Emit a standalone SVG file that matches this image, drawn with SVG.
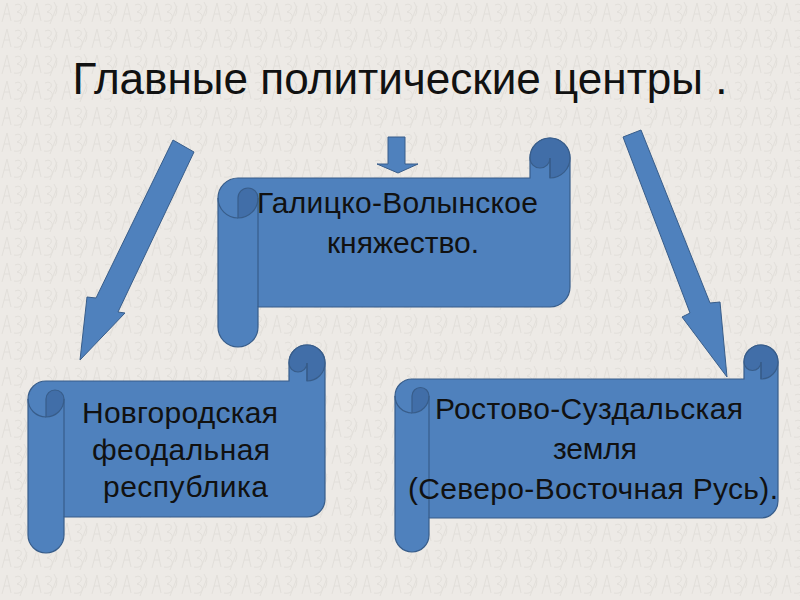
<svg xmlns="http://www.w3.org/2000/svg" width="800" height="600" viewBox="0 0 800 600">
<defs>
<pattern id="tex" width="30" height="26" patternUnits="userSpaceOnUse">
<rect width="30" height="26" fill="#edeae6"/>
<path d="M2 22 L7 3 L11 21 M4 14 H10 M15 5 C22 2 24 9 17 12 C25 13 24 23 14 21 M20 24 L27 6 M24 2 Q29 10 25 16" stroke="#e2dfda" stroke-width="1" fill="none"/>
</pattern>
</defs>
<style>
.body{fill:#4f81bd;stroke:#385d8a;stroke-width:1.2}
.dark{fill:#416ea8;stroke:#385d8a;stroke-width:1.2}
.ln{fill:none;stroke:#385d8a;stroke-width:1.2}
.arrow{fill:#4f81bd;stroke:#385d8a;stroke-width:1}
.t{font-family:"Liberation Sans",Arial,sans-serif;font-size:30px;fill:#111;text-anchor:middle}
.title{font-family:"Liberation Sans",Arial,sans-serif;font-size:44px;fill:#111;text-anchor:middle}
</style>
<rect width="800" height="600" fill="url(#tex)"/>
<text class="title" x="400" y="94" textLength="655" lengthAdjust="spacingAndGlyphs">Главные политические центры .</text>

<g id="connectors">
<polygon class="arrow" points="173,140 194,152 118,312 125,313 80,360 87,297 96,298"/>
<polygon class="arrow" points="388,137 405,137 405,164 418,164 398,173 377,164 388,164"/>
<polygon class="arrow" points="623,137 641,130 710,303 720,302 727,377 682,317 690,313"/>
</g>

<g id="galich">
<path class="body" d="M238,178 L530,178 L530,158 A20,20 0 0 1 570,158 L570,287 A20,20 0 0 1 550,307 L258,307 L258,327 A20,20 0 0 1 218,327 L218,198 A20,20 0 0 1 238,178 Z"/>
<path class="dark" d="M530,158 A20,20 0 0 1 570,158 A20,20 0 0 1 550,178 L550,158 A10,10 0 0 1 530,158 Z"/>
<path class="dark" d="M238,218 L238,198 A10,10 0 0 1 258,198 A20,20 0 0 1 238,218 Z"/>
<path class="ln" d="M550,158 L550,178 M258,198 L258,307 M218,198 A20,20 0 0 0 238,218"/>
<text class="t" x="397.5" y="213" textLength="281" lengthAdjust="spacing">Галицко-Волынское</text>
<text class="t" x="403" y="253" textLength="152" lengthAdjust="spacing">княжество.</text>
</g>

<g id="novgorod">
<path class="body" d="M46,381 L289,381 L289,363 A18,18 0 0 1 325,363 L325,499 A18,18 0 0 1 307,517 L64,517 L64,535 A18,18 0 0 1 28,535 L28,399 A18,18 0 0 1 46,381 Z"/>
<path class="dark" d="M289,363 A18,18 0 0 1 325,363 A18,18 0 0 1 307,381 L307,363 A9,9 0 0 1 289,363 Z"/>
<path class="dark" d="M46,417 L46,399 A9,9 0 0 1 64,399 A18,18 0 0 1 46,417 Z"/>
<path class="ln" d="M307,363 L307,381 M64,399 L64,517 M28,399 A18,18 0 0 0 46,417"/>
<text class="t" x="180" y="423" textLength="196" lengthAdjust="spacing">Новгородская</text>
<text class="t" x="181" y="460" textLength="178" lengthAdjust="spacing">феодальная</text>
<text class="t" x="185.5" y="497" textLength="165" lengthAdjust="spacing">республика</text>
</g>

<g id="rostov">
<path class="body" d="M412,379 L744,379 L744,362 A17,17 0 0 1 778,362 L778,501 A17,17 0 0 1 761,518 L429,518 L429,535 A17,17 0 0 1 395,535 L395,396 A17,17 0 0 1 412,379 Z"/>
<path class="dark" d="M744,362 A17,17 0 0 1 778,362 A17,17 0 0 1 761,379 L761,362 A8.5,8.5 0 0 1 744,362 Z"/>
<path class="dark" d="M412,413 L412,396 A8.5,8.5 0 0 1 429,396 A17,17 0 0 1 412,413 Z"/>
<path class="ln" d="M761,362 L761,379 M429,396 L429,518 M395,396 A17,17 0 0 0 412,413"/>
<text class="t" x="589" y="419" textLength="308" lengthAdjust="spacing">Ростово-Суздальская</text>
<text class="t" x="595" y="459" textLength="84" lengthAdjust="spacing">земля</text>
<text class="t" x="593" y="499" textLength="370" lengthAdjust="spacing">(Северо-Восточная Русь).</text>
</g>
</svg>
